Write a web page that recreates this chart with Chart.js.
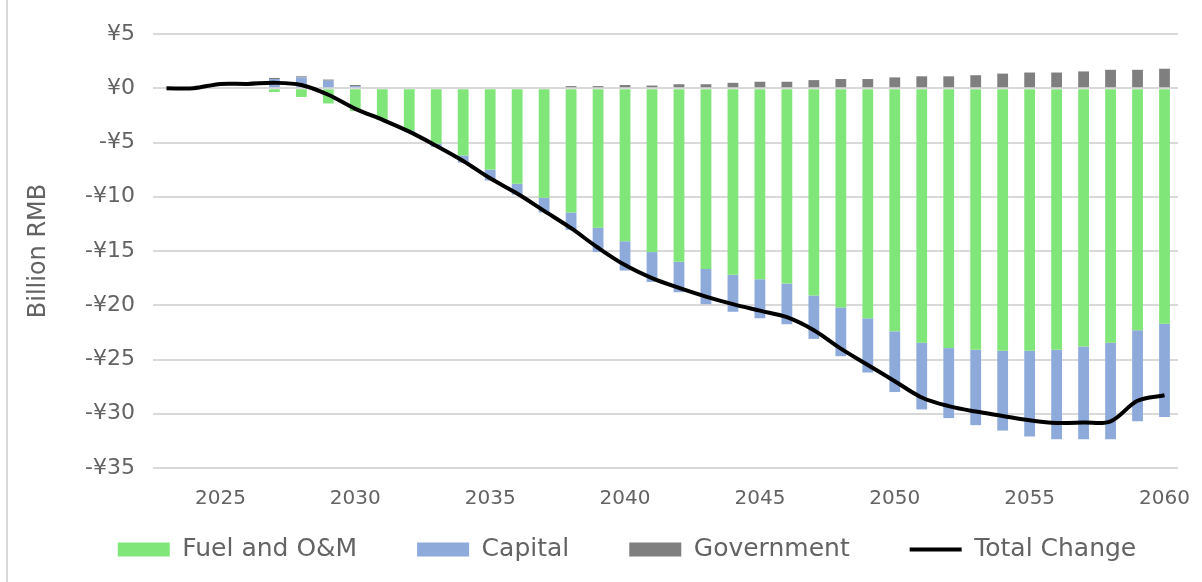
<!DOCTYPE html>
<html lang="en">
<head>
    <meta charset="utf-8">
    <title>Cost Change by Component</title>
    <script src="https://cdn.jsdelivr.net/npm/chart.js@4.4.1/dist/chart.umd.min.js"></script>
    <style>
        html, body { margin: 0; padding: 0; background: #fff; }
        #frame {
            position: absolute; left: 0; top: 0;
            width: 1202px; height: 582px;
        }
        #edge {
            position: absolute; left: 6px; top: 0;
            width: 2px; height: 582px; background: #d9d9d9;
        }
        canvas { position: absolute; left: 0; top: 0; }
    </style>
</head>
<body>

<div id="frame">
    <div id="edge"></div>
    <canvas id="chart" width="1202" height="582"></canvas>
</div>

<script>
// years on the category axis
var years = [2023, 2024, 2025, 2026, 2027, 2028, 2029, 2030, 2031, 2032,
             2033, 2034, 2035, 2036, 2037, 2038, 2039, 2040, 2041, 2042,
             2043, 2044, 2045, 2046, 2047, 2048, 2049, 2050, 2051, 2052,
             2053, 2054, 2055, 2056, 2057, 2058, 2059, 2060];

// billion RMB, change against the reference case
var fuelOM = [0, 0, 0, 0, -0.35, -0.8, -1.4, -2.1, -2.95, -3.9,
              -5.1, -6.2, -7.5, -8.8, -10.1, -11.45, -12.85, -14.1, -15.1, -16.0,
              -16.65, -17.2, -17.6, -18.0, -19.1, -20.2, -21.2, -22.4, -23.45, -23.95,
              -24.1, -24.2, -24.2, -24.1, -23.8, -23.45, -22.3, -21.7];

var capital = [0, 0, 0, 0, 0.85, 1.0, 0.7, 0.2, 0, -0.1,
               -0.3, -0.65, -1.0, -1.0, -1.35, -1.6, -2.25, -2.7, -2.75, -2.8,
               -3.25, -3.4, -3.6, -3.75, -4.0, -4.5, -5.0, -5.6, -6.15, -6.45,
               -6.95, -7.35, -7.9, -8.25, -8.55, -8.9, -8.4, -8.6];

var government = [0, 0, 0, 0, 0.1, 0.1, 0.1, 0.1, 0, 0,
                  0, 0, 0, 0, 0, 0.2, 0.2, 0.3, 0.25, 0.37,
                  0.37, 0.5, 0.6, 0.6, 0.75, 0.85, 0.85, 1.0, 1.1, 1.1,
                  1.2, 1.35, 1.45, 1.45, 1.55, 1.7, 1.7, 1.8];

var totalChange = [0, 0, 0.4, 0.4, 0.5, 0.3, -0.6, -1.9, -2.9, -4.0,
                   -5.3, -6.7, -8.3, -9.7, -11.3, -12.9, -14.7, -16.3, -17.5, -18.4,
                   -19.2, -19.9, -20.5, -21.1, -22.3, -24.0, -25.5, -27.0, -28.5, -29.3,
                   -29.8, -30.2, -30.6, -30.85, -30.8, -30.7, -28.8, -28.3];

var yTicks = [5, 0, -5, -10, -15, -20, -25, -30, -35];

var textColor = '#636363';
var fontFamily = '"DejaVu Sans", sans-serif';

function yen(v) {
    return (v < 0 ? '-' : '') + '\u00a5' + Math.abs(v);
}

var barStyle = function(label, values, color) {
    return {
        type: 'bar',
        label: label,
        data: values,
        backgroundColor: color,
        borderWidth: 0,
        stack: 'components',
        order: 1,
        barPercentage: 0.4,
        categoryPercentage: 1.0
    };
};

var data = {
    labels: years,
    datasets: [
        barStyle('Fuel and O&M', fuelOM, '#80e67a'),
        barStyle('Capital', capital, '#8eaadb'),
        barStyle('Government', government, '#7f7f7f'),
        {
            type: 'line',
            label: 'Total Change',
            data: totalChange,
            borderColor: '#000000',
            backgroundColor: '#000000',
            borderWidth: 4,
            pointRadius: 0,
            tension: 0.35,
            stack: 'total',
            order: 0
        }
    ]
};

// wide gaps between legend entries, but keep the legend box short
// and pull it up under the year labels
var legendPlacement = {
    id: 'legendPlacement',
    beforeInit: function(chart) {
        var legend = chart.legend;
        var fit = legend.fit;
        legend.fit = function() {
            fit.call(legend);
            legend.height = 70;
        };
    },
    afterLayout: function(chart) {
        var legend = chart.legend;
        legend.top -= 35;
        legend.left += 26;
        legend.right += 26;
    }
};

var ctx = document.getElementById('chart').getContext('2d');
var myChart = new Chart(ctx, {
    data: data,
    plugins: [legendPlacement],
    options: {
        responsive: false,
        animation: false,
        layout: { padding: { left: 24, right: 24, top: 34, bottom: 0 } },
        plugins: {
            tooltip: { enabled: false },
            legend: {
                position: 'bottom',
                labels: {
                    color: textColor,
                    font: { family: fontFamily, size: 25 },
                    usePointStyle: true,
                    pointStyleWidth: 52,
                    boxHeight: 14,
                    padding: 60,
                    sort: function(a, b) { return a.datasetIndex - b.datasetIndex; },
                    generateLabels: function(chart) {
                        var items = Chart.defaults.plugins.legend.labels.generateLabels(chart);
                        items.forEach(function(item) {
                            if (item.datasetIndex === 3) {
                                item.pointStyle = 'line';
                                item.lineWidth = 4;
                                item.strokeStyle = '#000000';
                            } else {
                                item.pointStyle = 'rect';
                                item.lineWidth = 0;
                            }
                        });
                        return items;
                    }
                }
            }
        },
        scales: {
            x: {
                stacked: true,
                grid: { display: false },
                border: { display: false },
                ticks: {
                    color: textColor,
                    font: { family: fontFamily, size: 20 },
                    autoSkip: false,
                    maxRotation: 0,
                    padding: 11,
                    callback: function(value, index) {
                        var y = years[index];
                        return y % 5 === 0 ? String(y) : '';
                    }
                },
                afterFit: function(scale) { scale.height = 44; }
            },
            y: {
                stacked: true,
                min: -35,
                max: 5,
                afterBuildTicks: function(scale) {
                    scale.ticks = yTicks.map(function(v) { return { value: v }; });
                },
                grid: { color: '#d9d9d9', lineWidth: 2, drawTicks: false },
                border: { display: false },
                ticks: {
                    color: textColor,
                    font: { family: fontFamily, size: 22 },
                    padding: 18,
                    callback: function(value) { return yen(value); }
                },
                title: {
                    display: true,
                    text: 'Billion RMB',
                    color: textColor,
                    font: { family: fontFamily, size: 24 },
                    padding: { top: 0, bottom: 4 }
                },
                afterFit: function(scale) { scale.width = 129; }
            }
        }
    }
});
</script>

</body>
</html>
